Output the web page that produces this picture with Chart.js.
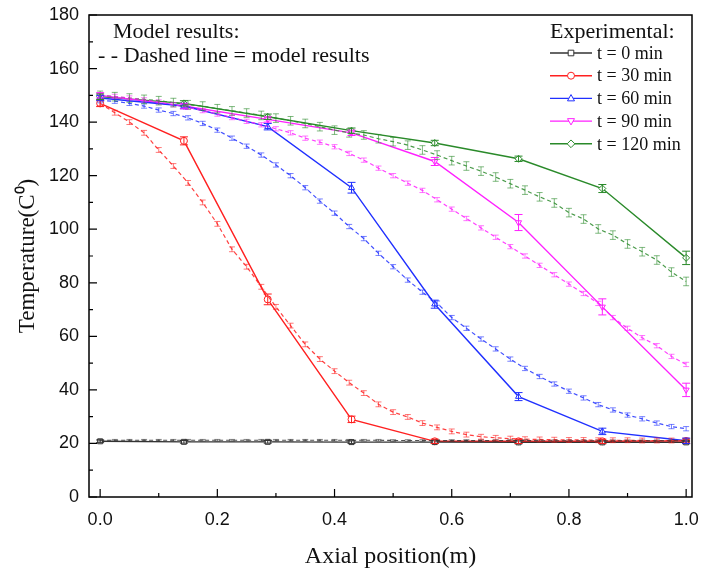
<!DOCTYPE html>
<html>
<head>
<meta charset="utf-8">
<script src="https://cdn.jsdelivr.net/npm/chart.js@4/dist/chart.umd.min.js"></script>
<style>
  html, body { margin: 0; padding: 0; background: #fff; }
  #wrap { width: 702px; height: 575px; }
</style>
</head>
<body>
<div id="wrap"><canvas id="lineChart" width="702" height="575"></canvas></div>
<script>
// experimental positions (m)
const xExp = [0, 0.143, 0.286, 0.429, 0.571, 0.714, 0.857, 1.0];
const exp0 = [20.8, 20.6, 20.6, 20.5, 20.5, 20.4, 20.4, 20.4];
const exp30 = [147, 133, 73.8, 29, 20.8, 20.8, 20.8, 20.9];
const exp60 = [149, 146, 138.3, 115.5, 72, 37.5, 24.5, 21];
const exp90 = [150, 146, 141, 136, 125.3, 102.5, 71, 40];
const exp120 = [149.5, 147, 142, 136.8, 132.2, 126.3, 115.2, 89.3];
const err0 = [0.5, 0.5, 0.5, 0.5, 0.5, 0.5, 0.5, 0.5];
const err30 = [1.2, 1.5, 2, 1.2, 0.8, 0.8, 0.8, 0.8];
const err60 = [1, 1, 1.2, 2, 1.5, 1.5, 1.2, 1];
const err90 = [1, 1, 1, 1, 1.5, 3, 3, 2.5];
const err120 = [1, 1, 1, 1, 1, 1, 1.5, 2.5];

// model positions (m)
const xModel = [0, 0.025, 0.05, 0.075, 0.1, 0.125, 0.15, 0.175, 0.2, 0.225,
  0.25, 0.275, 0.3, 0.325, 0.35, 0.375, 0.4, 0.425, 0.45, 0.475,
  0.5, 0.525, 0.55, 0.575, 0.6, 0.625, 0.65, 0.675, 0.7, 0.725,
  0.75, 0.775, 0.8, 0.825, 0.85, 0.875, 0.9, 0.925, 0.95, 0.975, 1.0];
const model0 = [21.2, 21.2, 21.2, 21.2, 21.2, 21.2, 21.2, 21.2, 21.2, 21.2,
  21.2, 21.2, 21.2, 21.2, 21.2, 21.2, 21.2, 21.2, 21.2, 21.2,
  21.1, 21.1, 21.1, 21.1, 21.1, 21.1, 21.1, 21.1, 21.1, 21.1,
  21.0, 21.0, 21.0, 21.0, 21.0, 21.0, 21.0, 21.0, 21.0, 21.0, 21.0];
const model30 = [147, 143.5, 140, 136, 129.6, 123.6, 117.3, 110, 102, 92.5,
  86, 78.5, 71, 64, 57, 51.5, 47, 42.7, 38.8, 34.6,
  31.7, 29.9, 27.6, 26, 24.5, 23.3, 22.5, 22.1, 21.8, 21.6,
  21.5, 21.4, 21.3, 21.3, 21.2, 21.2, 21.2, 21.1, 21.1, 21.1, 21.1];
const model60 = [148, 147.8, 147, 146, 144.5, 143.2, 141.6, 139.5, 137, 134,
  131, 127.7, 124, 120, 115.5, 110.5, 106, 101, 96.5, 91,
  86, 81, 76.5, 72.4, 67, 63, 59, 55.3, 51.5, 48,
  45, 42.2, 39.5, 37, 34.5, 32.5, 30.6, 29.2, 27.6, 26.3, 25.5];
const model90 = [150, 149.6, 149, 148.3, 147.5, 146.5, 145.5, 144.3, 143, 141.7,
  140.3, 139, 137.5, 136, 134, 132.5, 130.8, 128.3, 125.8, 122.8,
  120, 117.2, 114.5, 111, 107.5, 104, 100.5, 97, 93.5, 90,
  86.5, 83, 79.5, 76, 72.3, 67, 63, 59.5, 56.5, 52.5, 49.5];
const model120 = [150, 149.5, 149, 148.5, 148, 147.3, 146.5, 146, 145, 144.2,
  143.4, 142.5, 141.5, 140.5, 139.5, 138.3, 137, 136, 135.2, 133.8,
  132.7, 131.4, 129.6, 127.7, 125.6, 123.6, 121.7, 119.5, 117, 114.6,
  112.1, 109.8, 106.2, 103.8, 100.1, 97.8, 94.5, 91.6, 88.5, 84, 80.5];
const modelErr = [0.3, 0.9, 0.8, 0.8, 1.6];

// tick values
const xTicks = [0, 0.1, 0.2, 0.3, 0.4, 0.5, 0.6, 0.7, 0.8, 0.9, 1.0];
const yTicks = [0, 10, 20, 30, 40, 50, 60, 70, 80, 90, 100, 110, 120, 130, 140, 150, 160, 170, 180];

const seriesNames = ['t = 0 min', 't = 30 min', 't = 60 min', 't = 90 min', 't = 120 min'];
const colors = ['#333333', '#ff2020', '#2030ff', '#ff20ff', '#2a8a2a'];
const pointStyles = ['rect', 'circle', 'triangle', 'triangle', 'rectRot'];
const rotations = [0, 0, 0, 180, 0];

const expValues = [exp0, exp30, exp60, exp90, exp120];
const expErrs = [err0, err30, err60, err90, err120];
const modelValues = [model0, model30, model60, model90, model120];

function toPoints(xs, ys) {
    return xs.map((x, i) => ({ x: x, y: ys[i] }));
}

function fade(hex, a) {
    const n = parseInt(hex.slice(1), 16);
    return 'rgba(' + (n >> 16) + ',' + ((n >> 8) & 255) + ',' + (n & 255) + ',' + a + ')';
}

const datasets = [];
modelValues.forEach((vals, i) => {
    datasets.push({
        label: 'model ' + seriesNames[i],
        data: toPoints(xModel, vals),
        borderColor: fade(colors[i], 0.85),
        borderWidth: 1.2,
        borderDash: [4, 3],
        pointRadius: 0,
        fill: false,
        tension: 0,
        errColor: fade(colors[i], 0.6),
        errAll: modelErr[i],
        capHalf: 3
    });
});
expValues.forEach((vals, i) => {
    datasets.push({
        label: seriesNames[i],
        data: toPoints(xExp, vals),
        borderColor: colors[i],
        backgroundColor: '#ffffff',
        borderWidth: 1.4,
        pointStyle: pointStyles[i],
        rotation: rotations[i],
        pointRadius: 3.5,
        pointBorderWidth: 1,
        fill: false,
        tension: 0,
        errColor: colors[i],
        errList: expErrs[i],
        capHalf: 4
    });
});

// error bars
const errorBars = {
    id: 'errorBars',
    afterDatasetsDraw(chart) {
        const ctx = chart.ctx;
        const xs = chart.scales.x, ys = chart.scales.y;
        ctx.save();
        chart.data.datasets.forEach(ds => {
            ctx.strokeStyle = ds.errColor;
            ctx.lineWidth = 1;
            ds.data.forEach((p, j) => {
                const e = ds.errList ? ds.errList[j] : ds.errAll;
                const px = xs.getPixelForValue(p.x);
                const top = ys.getPixelForValue(p.y + e);
                const bot = ys.getPixelForValue(p.y - e);
                ctx.beginPath();
                ctx.moveTo(px, top); ctx.lineTo(px, bot);
                ctx.moveTo(px - ds.capHalf, top); ctx.lineTo(px + ds.capHalf, top);
                ctx.moveTo(px - ds.capHalf, bot); ctx.lineTo(px + ds.capHalf, bot);
                ctx.stroke();
            });
        });
        ctx.restore();
    }
};

function drawMarker(ctx, style, rot, x, y, r) {
    ctx.beginPath();
    if (style === 'circle') {
        ctx.arc(x, y, r, 0, Math.PI * 2);
    } else if (style === 'rect') {
        ctx.rect(x - r * 0.8, y - r * 0.8, r * 1.6, r * 1.6);
    } else if (style === 'rectRot') {
        ctx.moveTo(x, y - r * 1.1); ctx.lineTo(x + r * 1.1, y);
        ctx.lineTo(x, y + r * 1.1); ctx.lineTo(x - r * 1.1, y);
        ctx.closePath();
    } else {
        const s = rot === 180 ? -1 : 1;
        ctx.moveTo(x, y - s * r * 1.1);
        ctx.lineTo(x + r, y + s * r * 0.7);
        ctx.lineTo(x - r, y + s * r * 0.7);
        ctx.closePath();
    }
    ctx.fillStyle = '#fff';
    ctx.fill();
    ctx.stroke();
}

// frame, inward ticks, notes and legend
const decorations = {
    id: 'decorations',
    afterDraw(chart) {
        const ctx = chart.ctx;
        const a = chart.chartArea;
        const xs = chart.scales.x, ys = chart.scales.y;
        ctx.save();
        ctx.strokeStyle = '#000';
        ctx.lineWidth = 1.5;
        ctx.strokeRect(a.left, a.top, a.right - a.left, a.bottom - a.top);
        ctx.lineWidth = 1.2;
        ctx.beginPath();
        xTicks.forEach((v, i) => {
            const px = xs.getPixelForValue(v);
            const len = i % 2 === 0 ? 8 : 4;
            ctx.moveTo(px, a.bottom); ctx.lineTo(px, a.bottom - len);
        });
        yTicks.forEach((v, i) => {
            const py = ys.getPixelForValue(v);
            const len = i % 2 === 0 ? 8 : 4;
            ctx.moveTo(a.left, py); ctx.lineTo(a.left + len, py);
        });
        ctx.stroke();

        ctx.fillStyle = '#111';
        ctx.textBaseline = 'middle';
        ctx.textAlign = 'left';
        ctx.font = '22px "Liberation Serif"';
        ctx.fillText('Model results:', 113, 32);
        ctx.fillText('- - Dashed line = model results', 98, 56);

        ctx.font = '22px "Liberation Serif"';
        ctx.fillText('Experimental:', 550, 32);
        ctx.font = '18px "Liberation Serif"';
        seriesNames.forEach((name, i) => {
            const y = 53 + i * 22.7;
            ctx.strokeStyle = colors[i];
            ctx.lineWidth = 1.4;
            ctx.beginPath();
            ctx.moveTo(550, y); ctx.lineTo(592, y);
            ctx.stroke();
            ctx.lineWidth = 1;
            drawMarker(ctx, pointStyles[i], rotations[i], 571, y, 3.5);
            ctx.fillStyle = '#111';
            ctx.fillText(name, 597, y + 1);
        });
        ctx.restore();
    }
};

const ctx = document.getElementById('lineChart').getContext('2d');
new Chart(ctx, {
    type: 'line',
    data: { datasets: datasets },
    plugins: [errorBars, decorations],
    options: {
        responsive: false,
        animation: false,
        clip: false,
        layout: { padding: { left: 0, top: 15, right: 10, bottom: 0 } },
        plugins: {
            legend: { display: false },
            tooltip: { enabled: false }
        },
        scales: {
            x: {
                type: 'linear',
                min: -0.019,
                max: 1.01,
                afterBuildTicks: scale => { scale.ticks = xTicks.map(v => ({ value: v })); },
                afterFit: scale => {
                    scale.height = 78;
                    scale.paddingLeft = 0;
                    scale.paddingRight = 0;
                },
                grid: { display: false, drawTicks: false },
                border: { display: false },
                ticks: {
                    autoSkip: false,
                    maxRotation: 0,
                    padding: 12,
                    color: '#111',
                    font: { family: '"Liberation Sans"', size: 18 },
                    callback: (v, i) => (i % 2 === 0 ? v.toFixed(1) : '')
                },
                title: {
                    display: true,
                    text: 'Axial position(m)',
                    color: '#111',
                    font: { family: '"Liberation Serif"', size: 24 },
                    padding: { top: 8 }
                }
            },
            y: {
                min: 0,
                max: 180,
                afterBuildTicks: scale => { scale.ticks = yTicks.map(v => ({ value: v })); },
                afterFit: scale => {
                    scale.width = 89;
                    scale.paddingTop = 0;
                    scale.paddingBottom = 0;
                },
                grid: { display: false, drawTicks: false },
                border: { display: false },
                ticks: {
                    autoSkip: false,
                    padding: 10,
                    color: '#111',
                    font: { family: '"Liberation Sans"', size: 18 },
                    callback: (v, i) => (i % 2 === 0 ? String(v) : '')
                },
                title: {
                    display: true,
                    text: 'Temperature(C\u2070)',
                    color: '#111',
                    font: { family: '"Liberation Serif"', size: 23 },
                    padding: { top: 14, bottom: 2 }
                }
            }
        }
    }
});
</script>
</body>
</html>
